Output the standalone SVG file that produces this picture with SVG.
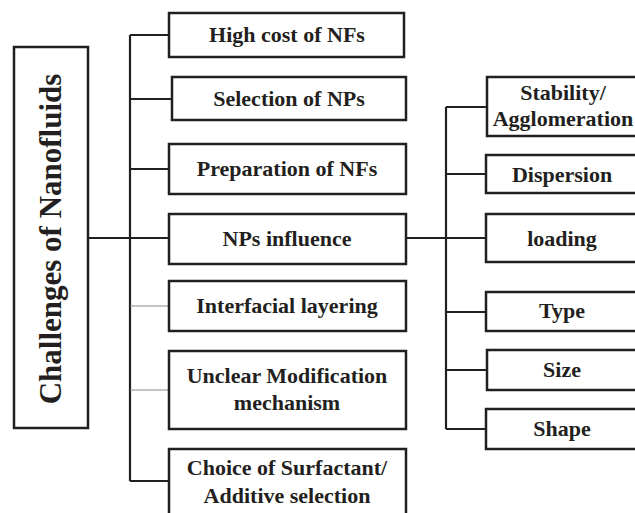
<svg xmlns="http://www.w3.org/2000/svg" width="635" height="513" viewBox="0 0 635 513">
<style>
.box{fill:#fff;stroke:#231f20;stroke-width:2.5}
.t{font-family:"Liberation Serif","Times New Roman",serif;font-weight:bold;font-size:22px;fill:#231f20;text-anchor:middle}
.title{font-family:"Liberation Serif","Times New Roman",serif;font-weight:bold;font-size:31px;fill:#231f20;text-anchor:middle}
.c{fill:none;stroke:#231f20;stroke-width:2.2}
.g{fill:none;stroke:#8a8a8a;stroke-width:1.2}
</style>
<rect width="635" height="513" fill="#fff"/>
<g id="connectors">
<path class="c" d="M130 35V481M130 35H169M130 99H172M130 169H169M88 238H169M130 481H169"/>
<path class="g" d="M130 306H169M130 390H169"/>
<path class="c" d="M406 238H486M446 107V429M446 107H486M446 174H486M446 312H486M446 370H486M446 429H486"/>
</g>
<g id="root"><rect class="box" x="14" y="47" width="74" height="381"/><text class="title" transform="translate(61 239) rotate(-90)">Challenges of Nanofluids</text></g>
<g id="n1"><rect class="box" x="169" y="13" width="235" height="44"/><text class="t" x="287" y="42">High cost of NFs</text></g>
<g id="n2"><rect class="box" x="172" y="77" width="234" height="43"/><text class="t" x="289" y="106">Selection of NPs</text></g>
<g id="n3"><rect class="box" x="169" y="144" width="237" height="50"/><text class="t" x="287" y="176">Preparation of NFs</text></g>
<g id="n4"><rect class="box" x="169" y="214" width="237" height="50"/><text class="t" x="287" y="246">NPs influence</text></g>
<g id="n5"><rect class="box" x="169" y="281" width="237" height="50"/><text class="t" x="287" y="313">Interfacial layering</text></g>
<g id="n6"><rect class="box" x="169" y="351" width="237" height="78"/><text class="t" x="287" y="383">Unclear Modification</text><text class="t" x="287" y="410">mechanism</text></g>
<g id="n7"><rect class="box" x="169" y="449" width="237" height="90"/><text class="t" x="287" y="475">Choice of Surfactant/</text><text class="t" x="287" y="503">Additive selection</text></g>
<g id="r1"><rect class="box" x="487" y="77" width="160" height="59"/><text class="t" x="563" y="100">Stability/</text><text class="t" x="563" y="126">Agglomeration</text></g>
<g id="r2"><rect class="box" x="486" y="155" width="160" height="38"/><text class="t" x="562" y="182">Dispersion</text></g>
<g id="r3"><rect class="box" x="486" y="214" width="160" height="48"/><text class="t" x="562" y="246">loading</text></g>
<g id="r4"><rect class="box" x="486" y="292" width="160" height="39"/><text class="t" x="562" y="318">Type</text></g>
<g id="r5"><rect class="box" x="487" y="350" width="160" height="40"/><text class="t" x="562" y="377">Size</text></g>
<g id="r6"><rect class="box" x="486" y="409" width="160" height="40"/><text class="t" x="562" y="436">Shape</text></g>
</svg>
